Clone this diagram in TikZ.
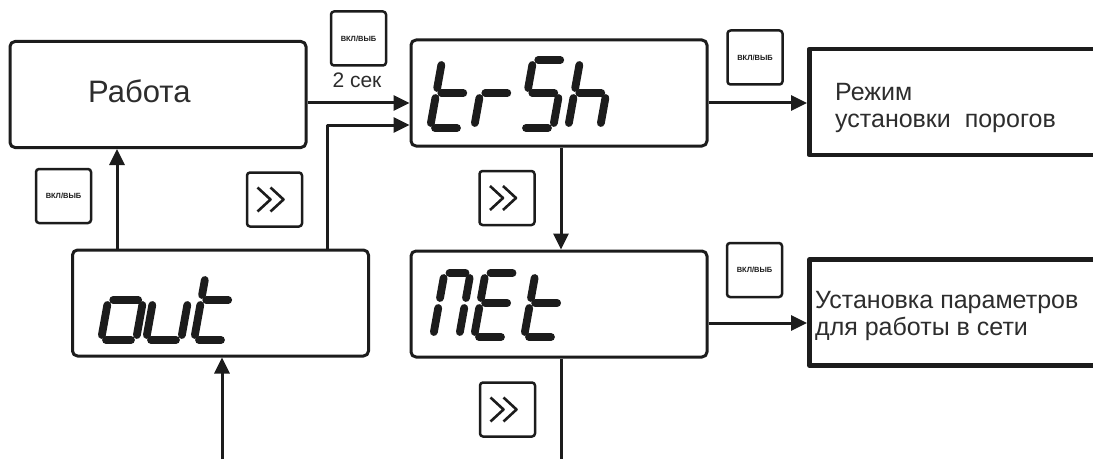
\documentclass[tikz,border=0pt]{standalone}
\usepackage{fontspec}
\setmainfont{Liberation Sans}
\usetikzlibrary{arrows.meta}

\definecolor{inkline}{RGB}{28,28,28}
\definecolor{inktext}{RGB}{45,45,45}

% seven segment glyphs
\newcommand\segh{68}
\newcommand\segm{35}
\newcommand\seggap{5}
\newcommand\segparta[1]{\draw[seg] (\seggap,\segh) -- (#1-\seggap,\segh);}
\newcommand\segpartb[1]{\draw[seg] (#1,\segm+\seggap) -- (#1,\segh-\seggap);}
\newcommand\segpartc[1]{\draw[seg] (#1,\seggap) -- (#1,\segm-\seggap);}
\newcommand\segpartd[1]{\draw[seg] (\seggap,0) -- (#1-\seggap,0);}
\newcommand\segparte[1]{\draw[seg] (0,\seggap) -- (0,\segm-\seggap);}
\newcommand\segpartf[1]{\draw[seg] (0,\segm+\seggap) -- (0,\segh-\seggap);}
\newcommand\segpartg[1]{\draw[seg] (\seggap,\segm) -- (#1-\seggap,\segm);}
\newcommand\segchar[4][32]{%
  \begin{scope}[shift={(#2,#3)}, xslant=0.18]
    \foreach \s in {#4} {\csname segpart\s\endcsname{#1}}
  \end{scope}}
% two chevrons in a key
\newcommand\chev[1]{%
  \draw[chevline] ([xshift=-17pt,yshift=12pt]#1.center) -- ++(13,-12) -- ++(-13,-12);
  \draw[chevline] ([xshift=-4pt,yshift=12pt]#1.center) -- ++(13,-12) -- ++(-13,-12);}

\begin{document}
\begin{tikzpicture}[x=1pt,y=1pt, inkline, line join=round]
\tikzset{
  lcd/.style={draw, line width=3pt, rounded corners=5pt, minimum width=296pt, minimum height=106pt, inner sep=0pt}, % display box
  modebox/.style={draw, line width=4.5pt, minimum width=320pt, minimum height=106pt, anchor=west, inner sep=0pt}, % target menu
  key/.style={draw, line width=2.5pt, rounded corners=3pt, minimum width=55pt, minimum height=54pt, inner sep=0pt, fill=white},
  seg/.style={line width=7.8pt, line cap=round},
  chevline/.style={line width=2.6pt},
  txt/.style={text=inktext, inner sep=0pt},
  link/.style={line width=3pt, -{Triangle[length=16pt,width=15pt]}},
  wire/.style={line width=3pt}
}
\useasboundingbox (0,0) rectangle (1093,459);
\fill[white] (0,0) rectangle (1093,459);

% boxes
\node[lcd] (work) at (158,364.5) {};
\node[lcd] (trsh) at (559,366) {};
\node[lcd] (out) at (220.5,156) {};
\node[lcd] (net) at (559,155) {};
\node[modebox] (thr) at (807,357) {};
\node[modebox] (netset) at (807,146.5) {};

% texts
\node[txt, anchor=base west, font=\fontsize{31}{36}\selectfont] (worktxt) at (88,356) {Работа};
\node[txt, anchor=base, font=\fontsize{21}{24}\selectfont] (sec) at (357,371) {2 сек};
\node[txt, anchor=base west, font=\fontsize{25}{28}\selectfont] (thr1) at (835,359) {Режим};
\node[txt, anchor=base west, font=\fontsize{25}{28}\selectfont] (thr2) at (835,331) {установки\ \ порогов};
\node[txt, anchor=base west, font=\fontsize{25}{28}\selectfont] (net1) at (815,151) {Установка параметров};
\node[txt, anchor=base west, font=\fontsize{25}{28}\selectfont] (net2) at (815,124) {для работы в сети};

% keys
\node[key] (k1) at (358.5,420.5) {\fontsize{7.5}{8}\selectfont\bfseries ВКЛ/ВЫБ};
\node[key] (k2) at (755,401.5) {\fontsize{7.5}{8}\selectfont\bfseries ВКЛ/ВЫБ};
\node[key] (k3) at (63.5,263) {\fontsize{7.5}{8}\selectfont\bfseries ВКЛ/ВЫБ};
\node[key] (k4) at (754.5,189) {\fontsize{7.5}{8}\selectfont\bfseries ВКЛ/ВЫБ};
\node[key] (n1) at (274.5,259.5) {};
\node[key] (n2) at (507,261) {};
\node[key] (n3) at (507.5,49.5) {};
\chev{n1} \chev{n2} \chev{n3}

% displays
\segchar{430}{331}{f,e,g,d}
\segchar{474}{331}{e,g}
\segchar{521}{331}{a,f,g,c,d}
\segchar{568}{331}{f,e,g,c}
\renewcommand\segh{64}\renewcommand\segm{34}
\segchar[26]{433}{122}{a,b,c,e,f}
\segchar{474}{122}{a,f,e,g,d}
\segchar{524}{122}{f,e,g,d}
\renewcommand\segh{65}\renewcommand\segm{40}
\segchar[35]{101}{119}{c,d,e,g}
\segchar[35]{146}{119}{c,d,e}
\segchar{194}{119}{f,e,g,d}

% connectors
\coordinate (w1) at ([yshift=-8.5pt]work.east);
\draw[link] (w1) -- (w1 -| trsh.west);
\coordinate (o1) at ([xshift=106.5pt]out.north);
\draw[link] (o1) |- ([yshift=-32pt]trsh.west);
\coordinate (o2) at ([xshift=-103.5pt]out.north);
\draw[link] (o2) -- (o2 |- work.south);
\coordinate (t1) at ([xshift=2pt]trsh.south);
\draw[link] (t1) -- (t1 |- net.north);
\coordinate (t2) at ([yshift=-10pt]trsh.east);
\draw[link] (t2) -- (t2 -| thr.west);
\coordinate (e1) at ([yshift=-19pt]net.east);
\draw[link] (e1) -- (e1 -| netset.west);
\coordinate (in) at (222,0);
\draw[link] (in) -- (in |- out.south);
\coordinate (t3) at ([xshift=2pt]net.south);
\draw[wire] (t3) -- (t3 |- 0,0);
\end{tikzpicture}
\end{document}
